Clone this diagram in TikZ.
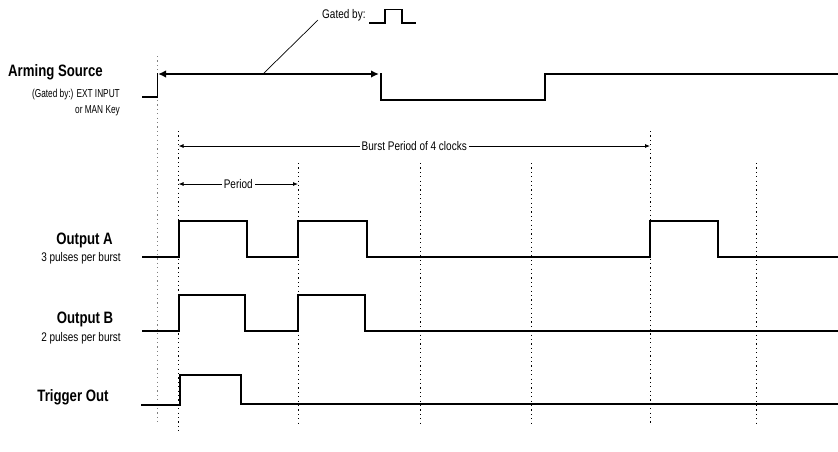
\documentclass[tikz,border=0pt]{standalone}
\usepackage{fontspec}
\setmainfont{Liberation Sans}[FakeStretch=0.8]
\newfontfamily\narrowlblfont{Liberation Sans}[FakeStretch=0.72]
\usetikzlibrary{arrows.meta}
\begin{document}
\begin{tikzpicture}[x=1pt,y=-1pt,
  wave/.style={line width=1.8pt,line join=miter},
  bigarrow/.style={line width=1.8pt,{Latex[length=8pt,width=7.5pt]}-{Latex[length=8pt,width=7.5pt]}},
  thinarrow/.style={line width=0.8pt,{Latex[length=5pt,width=4pt]}-{Latex[length=5pt,width=4pt]}},
  clockline/.style={line width=0.7pt,dash pattern=on 1.2pt off 3.2pt},
  biglbl/.style={inner sep=0pt,font=\bfseries\fontsize{16.5}{18}\selectfont},
  smalllbl/.style={inner sep=0pt,font=\fontsize{12.5}{14}\selectfont},
  tinylbl/.style={inner sep=0pt,font=\narrowlblfont\fontsize{11.5}{13}\selectfont},
  midlbl/.style={fill=white,inner sep=2pt,font=\fontsize{12.5}{14}\selectfont}]
\useasboundingbox (0,0) rectangle (838,451);

% dotted clock lines
\draw[clockline,gray] (157.5,56) -- (157.5,423);
\draw[clockline] (178.5,131) -- (178.5,433);
\draw[clockline] (298,163) -- (298,425);
\draw[clockline] (420,163) -- (420,425);
\draw[clockline] (531,163) -- (531,425);
\draw[clockline] (650,131) -- (650,425);
\draw[clockline] (756,163) -- (756,425);

% labels
\node[biglbl,anchor=base east] (arm) at (103,76) {Arming Source};
\node[tinylbl,anchor=base east] (armsub1) at (120,97) {(Gated by:) EXT INPUT};
\node[tinylbl,anchor=base east] (armsub2) at (120,113) {or MAN Key};
\node[biglbl,anchor=base] (outa) at (84.5,244) {Output A};
\node[smalllbl,anchor=base] (outasub) at (81,261) {3 pulses per burst};
\node[biglbl,anchor=base] (outb) at (85,323) {Output B};
\node[smalllbl,anchor=base] (outbsub) at (81,341) {2 pulses per burst};
\node[biglbl,anchor=base] (trig) at (73,401) {Trigger Out};

% arming source waveform
\draw[wave] (142,97) -- (157.5,97) -- (157.5,73);
\coordinate (armL) at (158,74);
\coordinate (armR) at (379,74);
\draw[bigarrow] (armL) -- (armR);
\draw[wave] (381,73) -- (381,100) -- (545,100) -- (545,74) -- (838,74);

% gated by
\coordinate (gateA) at (263,74);
\coordinate (gateB) at (318,20);
\draw[line width=0.7pt] (gateA) -- (gateB);
\node[smalllbl,anchor=base west] (gated) at (322,18) {Gated by:};
\draw[line width=1.5pt,line join=miter] (369,23) -- (385,23) -- (385,9.5) -- (402,9.5) -- (402,23) -- (416,23);

% burst period and period arrows
\coordinate (bL) at (178.5,146);
\coordinate (bR) at (650,146);
\draw[thinarrow] (bL) -- node[midlbl] (burst) {Burst Period of 4 clocks} (bR);
\coordinate (pL) at (178.5,184);
\coordinate (pR) at (298,184);
\draw[thinarrow] (pL) -- node[midlbl] (period) {Period} (pR);

% output A
\draw[wave] (142,257) -- (179,257) -- (179,221) -- (247,221) -- (247,257) -- (298,257) -- (298,221) -- (367,221) -- (367,257) -- (650,257) -- (650,221) -- (718,221) -- (718,257) -- (838,257);

% output B
\draw[wave] (142,331) -- (179,331) -- (179,295) -- (245,295) -- (245,331) -- (298,331) -- (298,295) -- (365,295) -- (365,331) -- (838,331);

% trigger out
\draw[wave] (141,405) -- (180,405) -- (180,375) -- (241,375) -- (241,404) -- (838,404);
\draw[line width=2.6pt] (267,404) -- (298,404);
\end{tikzpicture}
\end{document}
